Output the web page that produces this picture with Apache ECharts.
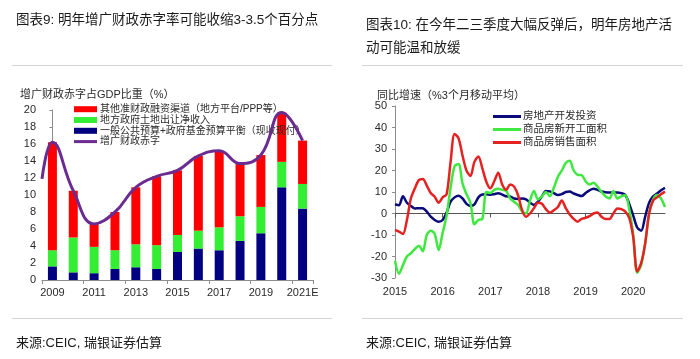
<!DOCTYPE html>
<html>
<head>
<meta charset="utf-8">
<script src="https://cdn.jsdelivr.net/npm/echarts@6/dist/echarts.min.js"></script>
<style>
html,body{margin:0;padding:0;background:#fff;}
#main{width:700px;height:359px;}
</style>
</head>
<body>
<div id="main"></div>
<script>
// ---------- Left chart data ----------
const barYears = ['2009','2010','2011','2012','2013','2014','2015','2016','2017','2018','2019','2020','2021E'];
const otherQuasiFiscal = [12.7,5.5,2.7,4.5,6.7,8.1,7.6,8.8,9.0,6.2,6.1,5.8,5.1];
const landSalesNet = [1.9,4.1,3.1,2.2,2.7,2.8,2.0,2.1,2.7,2.9,3.1,3.0,2.9];
const budgetBalance = [1.6,0.9,0.8,1.3,1.5,1.3,3.3,3.7,3.5,4.6,5.5,10.9,8.4];
const augmentedDeficit = [16.2,10.5,6.6,8.0,10.9,12.2,12.9,14.6,15.2,13.7,14.7,19.7,16.4];
const augmentedDeficitStart = 11.9; // value where the curve enters at the left axis
const leftYTicks = [0,2,4,6,8,10,12,14,16,18,20];

// ---------- Right chart data (monthly, Jan 2015 - Sep 2020) ----------
const monthYears = ['2015','2016','2017','2018','2019','2020'];
const months = [];
monthYears.forEach(y => { for (let m = 1; m <= 12; m++) months.push(y + '-' + (m < 10 ? '0' + m : m)); });
months.length = 69;
const reInvestment = [4.3,3.8,8.0,5.0,3.5,2.3,2.5,2.4,0.9,-1.5,
  -3.0,-3.8,-3.0,0.5,5.5,7.5,8.3,7.0,4.5,3.5,
  4.2,7.5,8.8,8.9,8.7,9.0,9.4,8.8,8.0,7.9,
  7.0,6.8,7.0,6.6,5.0,4.0,5.5,8.0,10.5,10.3,
  9.5,8.6,9.0,10.0,10.2,9.3,8.6,8.1,9.5,10.8,
  11.5,11.0,10.2,9.9,9.8,9.8,9.8,9.5,8.6,4.5,
  -1.0,-6.5,-8.0,-1.5,5.0,8.0,9.3,10.8,12.0];
const newStarts = [-22,-28,-24,-20,-18.5,-16.5,-15,-17.5,-10,-8,
  -9.5,-17,-9,-1,12,22,23,14,9,5,
  -5,-3,-2.5,10,9.5,11,11.5,11,10.5,7,
  5.5,4,1,0,6,10.5,6.5,8,10,8,
  12,17,20,23.5,24.5,20,18,17.8,15,13.5,
  14.3,12.5,10,8,7,10.5,7,8,8.5,2,
  -10,-27.5,-24,-14,0,6.5,8.6,7,3];
const salesArea = [-7.7,-8.4,-9.5,-3,7,11.7,15.5,16,13,9.5,
  7.8,5,7.5,9,24,37,35,27,20,17.5,
  24,26.5,21,14.8,11.7,15,19,13.5,11,13.5,
  12.5,8.5,1.6,-1.5,0,2.5,5,4.5,2,0.4,
  1.5,3,6,2.5,-0.5,-2.5,-3.8,-2.5,-2,-1.2,
  0,0.5,-1.5,-2.5,-2.5,0,2.3,2,0.9,-2,
  -11,-27,-23,-14,0,6,7.5,9,10.2];
const rightYTicks = [-30,-20,-10,0,10,20,30,40,50];

const FONT = '"Liberation Sans", "Noto Sans CJK SC", sans-serif';
const TXT = '#2a2a2a';
const LINE_ICON = 'path://M0,0L28,0L28,3L0,3Z';

const chart = echarts.init(document.getElementById('main'), null, {renderer: 'canvas'});

const lineData = [[-0.5, augmentedDeficitStart]].concat(augmentedDeficit.map((v, i) => [i, v]));

const option = {
  backgroundColor: '#fff',
  animation: false,
  textStyle: {fontFamily: FONT},
  title: [
    {text: '图表9: 明年增广财政赤字率可能收缩3-3.5个百分点', left: 11, top: 9,
     textStyle: {fontSize: 13.5, fontWeight: 'normal', color: '#1a1a1a', fontFamily: FONT}},
    {text: '图表10: 在今年二三季度大幅反弹后，明年房地产活\n动可能温和放缓', left: 361, top: 9,
     textStyle: {fontSize: 13.5, fontWeight: 'normal', color: '#1a1a1a', fontFamily: FONT, lineHeight: 23}},
    {text: '增广财政赤字占GDP比重（%）', left: 15, top: 84,
     textStyle: {fontSize: 11, fontWeight: 'normal', color: TXT, fontFamily: FONT}},
    {text: '同比增速（%3个月移动平均）', left: 372, top: 85,
     textStyle: {fontSize: 11, fontWeight: 'normal', color: TXT, fontFamily: FONT}},
    {text: '来源:CEIC, 瑞银证券估算', left: 11, top: 332,
     textStyle: {fontSize: 13, fontWeight: 'normal', color: '#1a1a1a', fontFamily: FONT}},
    {text: '来源:CEIC, 瑞银证券估算', left: 361, top: 332,
     textStyle: {fontSize: 13, fontWeight: 'normal', color: '#1a1a1a', fontFamily: FONT}}
  ],
  graphic: [
    {type: 'line', shape: {x1: 12, y1: 65.5, x2: 332, y2: 65.5}, style: {stroke: '#d4d4d4', lineWidth: 1}},
    {type: 'line', shape: {x1: 362, y1: 65.5, x2: 683, y2: 65.5}, style: {stroke: '#d4d4d4', lineWidth: 1}},
    {type: 'line', shape: {x1: 12, y1: 318.5, x2: 332, y2: 318.5}, style: {stroke: '#d4d4d4', lineWidth: 1}},
    {type: 'line', shape: {x1: 362, y1: 318.5, x2: 683, y2: 318.5}, style: {stroke: '#d4d4d4', lineWidth: 1}}
  ],
  legend: [
    {left: 69, top: 99, orient: 'vertical', itemWidth: 23, itemHeight: 6, itemGap: 0.4,
     icon: 'rect', selectedMode: false,
     data: [
       {name: '其他准财政融资渠道（地方平台/PPP等）', icon: 'rect'},
       {name: '地方政府土地出让净收入', icon: 'rect'},
       {name: '一般公共预算+政府基金预算平衡（现收现付）', icon: 'rect'},
       {name: '增广财政赤字', icon: 'path://M0,0L23,0L23,3L0,3Z'}
     ],
     textStyle: {fontSize: 10, color: TXT, lineHeight: 10.4, padding: [0,0,0,-2], fontFamily: FONT}},
    {left: 488, top: 105, orient: 'vertical', itemWidth: 28, itemHeight: 3, itemGap: 0,
     selectedMode: false, icon: LINE_ICON,
     data: [
       {name: '房地产开发投资', icon: LINE_ICON},
       {name: '商品房新开工面积', icon: LINE_ICON},
       {name: '商品房销售面积', icon: LINE_ICON}
     ],
     textStyle: {fontSize: 10.5, color: TXT, lineHeight: 13, padding: [0,0,0,-3], fontFamily: FONT}}
  ],
  grid: [
    {left: 42, top: 110, width: 271, height: 170},
    {left: 395, top: 106, width: 270, height: 172}
  ],
  xAxis: [
    {type: 'category', gridIndex: 0, data: barYears, boundaryGap: true,
     axisLine: {show: true, lineStyle: {color: '#8c8c8c'}},
     axisTick: {show: true, interval: 1, length: 4, lineStyle: {color: '#8c8c8c'}},
     axisLabel: {interval: 1, fontSize: 11, color: TXT, margin: 7, fontFamily: FONT}},
    {type: 'value', gridIndex: 0, min: -0.5, max: 12.5, show: false},
    {type: 'category', gridIndex: 1, data: months, boundaryGap: false, position: 'bottom',
     axisLine: {show: false, onZero: false}, axisTick: {show: false},
     axisLabel: {interval: (i) => i % 12 === 0, formatter: (v) => v.slice(0, 4),
                 fontSize: 11, color: TXT, margin: 8, fontFamily: FONT}},
    {type: 'category', gridIndex: 1, data: months, boundaryGap: false, position: 'bottom',
     axisLine: {show: true, onZero: true, lineStyle: {color: '#555', width: 1}},
     axisTick: {show: true, interval: (i) => i % 12 === 0, length: 4, lineStyle: {color: '#555'}},
     axisLabel: {show: false}}
  ],
  yAxis: [
    {type: 'value', gridIndex: 0, min: leftYTicks[0], max: leftYTicks[leftYTicks.length - 1], interval: 2,
     axisLine: {show: true, lineStyle: {color: '#8c8c8c'}},
     axisTick: {show: true, length: 3, lineStyle: {color: '#8c8c8c'}},
     splitLine: {show: false},
     axisLabel: {fontSize: 11, color: TXT, margin: 6, fontFamily: FONT}},
    {type: 'value', gridIndex: 1, min: rightYTicks[0], max: rightYTicks[rightYTicks.length - 1], interval: 10,
     axisLine: {show: true, lineStyle: {color: '#8c8c8c'}},
     axisTick: {show: true, length: 3, lineStyle: {color: '#8c8c8c'}},
     splitLine: {show: false},
     axisLabel: {fontSize: 11, color: TXT, margin: 8, fontFamily: FONT}}
  ],
  series: [
    {name: '一般公共预算+政府基金预算平衡（现收现付）', type: 'bar', stack: 'fd', xAxisIndex: 0, yAxisIndex: 0,
     data: budgetBalance, barWidth: 9, itemStyle: {color: '#000080'}},
    {name: '地方政府土地出让净收入', type: 'bar', stack: 'fd', xAxisIndex: 0, yAxisIndex: 0,
     data: landSalesNet, barWidth: 9, itemStyle: {color: '#33ee33'}},
    {name: '其他准财政融资渠道（地方平台/PPP等）', type: 'bar', stack: 'fd', xAxisIndex: 0, yAxisIndex: 0,
     data: otherQuasiFiscal, barWidth: 9, itemStyle: {color: '#ff0000'}},
    {name: '增广财政赤字', type: 'line', xAxisIndex: 1, yAxisIndex: 0, data: lineData,
     smooth: 0.45, symbol: 'none', lineStyle: {color: '#6a2c91', width: 3}, itemStyle: {color: '#6a2c91'}, z: 5},
    {name: '房地产开发投资', type: 'line', xAxisIndex: 2, yAxisIndex: 1, data: reInvestment,
     smooth: 0.3, symbol: 'none', lineStyle: {color: '#0a0a7a', width: 2.5}, itemStyle: {color: '#0a0a7a'}},
    {name: '商品房新开工面积', type: 'line', xAxisIndex: 2, yAxisIndex: 1, data: newStarts,
     smooth: 0.3, symbol: 'none', lineStyle: {color: '#3ee83e', width: 2.5}, itemStyle: {color: '#3ee83e'}},
    {name: '商品房销售面积', type: 'line', xAxisIndex: 2, yAxisIndex: 1, data: salesArea,
     smooth: 0.3, symbol: 'none', lineStyle: {color: '#e52222', width: 2.5}, itemStyle: {color: '#e52222'}}
  ]
};
chart.setOption(option);
</script>
</body>
</html>
